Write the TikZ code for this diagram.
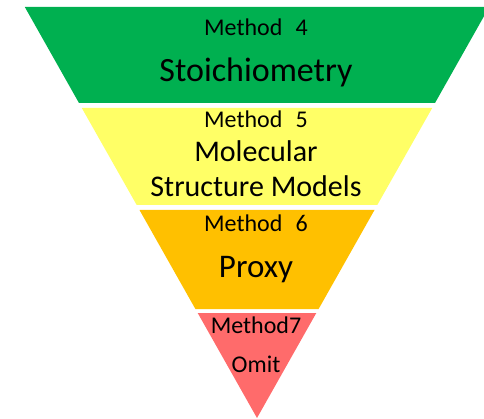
\documentclass[tikz,border=0pt]{standalone}
\usepackage{fontspec}
\setmainfont{Carlito}
\definecolor{tiergreen}{HTML}{00B050}
\definecolor{tieryellow}{HTML}{FFFF66}
\definecolor{tierorange}{HTML}{FFC000}
\definecolor{tierred}{HTML}{FF6B6B}
\tikzset{
  label/.style={anchor=base, inner sep=0pt, font=\fontsize{24}{28}\selectfont},
}
\begin{document}
\begin{tikzpicture}[x=1pt,y=-1pt]
            \useasboundingbox (0,0) rectangle (484,419);
            \clip (0,0) rectangle (484,419);

            % band corners
            \coordinate (G1) at (24.8,7);
            \coordinate (G2) at (489.2,7);
            \coordinate (G3) at (435,103);
            \coordinate (G4) at (79,103);
            \coordinate (Y1) at (81.8,108);
            \coordinate (Y2) at (432.2,108);
            \coordinate (Y3) at (377.3,205);
            \coordinate (Y4) at (136.7,205);
            \coordinate (O1) at (139.5,210);
            \coordinate (O2) at (374.5,210);
            \coordinate (O3) at (318.6,309);
            \coordinate (O4) at (195.4,309);
            \coordinate (R1) at (197.7,313);
            \coordinate (R2) at (316.3,313);
            \coordinate (R3) at (257,418);

            \fill[tiergreen] (G1)--(G2)--(G3)--(G4)--cycle;
            \fill[tieryellow] (Y1)--(Y2)--(Y3)--(Y4)--cycle;
            \fill[tierorange] (O1)--(O2)--(O3)--(O4)--cycle;
            \fill[tierred] (R1)--(R2)--(R3)--cycle;

            \node[label] (m4) at (256,36) {Method\hspace{0.55em}4};
            \node[label, font=\fontsize{34}{40}\selectfont] (stoich) at (256,82) {Stoichiometry};
            \node[label] (m5) at (256,128) {Method\hspace{0.55em}5};
            \node[label, font=\fontsize{30}{36}\selectfont] (molec) at (256,162) {Molecular};
            \node[label, font=\fontsize{30}{36}\selectfont] (struct) at (256,197) {Structure Models};
            \node[label] (m6) at (256,232) {Method\hspace{0.55em}6};
            \node[label, font=\fontsize{33}{38}\selectfont] (proxy) at (256,278) {Proxy};
            \node[label] (m7) at (256,333) {Method7};
            \node[label] (omit) at (256,372) {Omit};
        \end{tikzpicture}
\end{document}
